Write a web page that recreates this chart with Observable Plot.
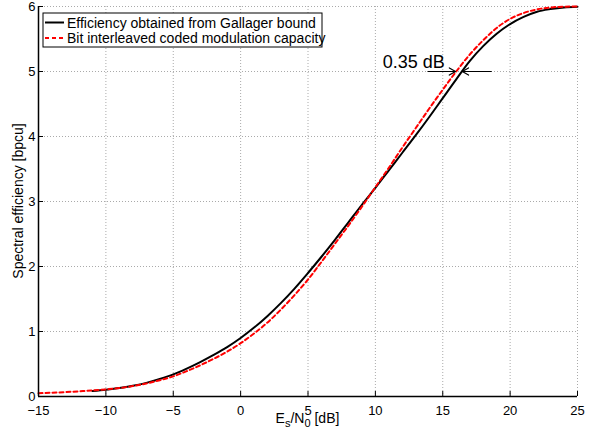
<!DOCTYPE html>
<html>
<head>
<meta charset="utf-8">
<script src="https://cdn.jsdelivr.net/npm/d3@7"></script>
<script src="https://cdn.jsdelivr.net/npm/@observablehq/plot@0.6"></script>
<style>
  html, body { margin: 0; padding: 0; background: #fff; }
  #chart { width: 602px; height: 430px; }
</style>
</head>
<body>
<div id="chart"></div>
<script>
// ---- data ----
const snrBicm = d3.range(-15, 26); // Es/N0 [dB]
const bicmCapacity = [0.05,0.058,0.068,0.08,0.093,0.11,0.13,0.16,0.2,0.25,
  0.31,0.39,0.48,0.58,0.69,0.82,0.97,1.14,1.34,1.56,
  1.80,2.07,2.35,2.63,2.92,3.22,3.52,3.83,4.13,4.43,
  4.72,5.0,5.26,5.48,5.67,5.81,5.9,5.955,5.985,5.997,6.0];
const snrGallager = d3.range(-11, 26);
const gallagerEff = [0.085,0.105,0.13,0.165,0.21,0.27,0.34,0.43,0.53,0.64,
  0.76,0.90,1.06,1.24,1.44,1.66,1.90,2.15,2.41,2.68,
  2.95,3.21,3.48,3.75,4.02,4.30,4.59,4.88,5.16,5.39,
  5.58,5.73,5.84,5.92,5.96,5.985,5.995];
const xTicks = [-15,-10,-5,0,5,10,15,20,25];
const yTicks = [0,1,2,3,4,5,6];
const seriesNames = ["Efficiency obtained from Gallager bound", "Bit interleaved coded modulation capacity"];
// annotation (0.35 dB gap at 5 bpcu)
const arrowFromX = [13.9, 18.6];
const arrowToX = [15.95, 16.45];
const arrowY = [5, 5];
const annotText = "0.35 dB";
const annotX = 12.85, annotY = 5.14;

const bicm = snrBicm.map((x, i) => ({x, y: bicmCapacity[i]}));
const gal = snrGallager.map((x, i) => ({x, y: gallagerEff[i]}));
const arrows = arrowFromX.map((x1, i) => ({x1, x2: arrowToX[i], y: arrowY[i]}));

const W = 602, H = 430, mL = 38, mR = 25, mT = 6, mB = 34;
const pw = W - mL - mR, ph = H - mT - mB;
const fmt = d => d < 0 ? "\u2212" + (-d) : String(d);
const FONT = "'Liberation Sans', Arial, sans-serif";

const svg = Plot.plot({
  width: W, height: H,
  marginLeft: mL, marginRight: mR, marginTop: mT, marginBottom: mB,
  style: {fontFamily: FONT, fontSize: "13px", color: "#000", background: "#fff", overflow: "visible"},
  x: {domain: [-15, 25]},
  y: {domain: [0, 6]},
  marks: [
    Plot.gridX(xTicks, {stroke: "#aaa", strokeOpacity: 1, strokeDasharray: "1,2"}),
    Plot.gridY(yTicks, {stroke: "#aaa", strokeOpacity: 1, strokeDasharray: "1,2"}),
    Plot.tickX(xTicks, {x: d => d, stroke: "#000", insetTop: ph - 5, strokeWidth: 1}),
    Plot.tickY(yTicks, {y: d => d, stroke: "#000", insetRight: pw - 5, strokeWidth: 1}),
    Plot.axisX(xTicks, {tickSize: 0, tickPadding: 9, tickFormat: fmt, label: null, fontSize: 13}),
    Plot.axisY(yTicks, {tickSize: 0, tickPadding: 3, tickFormat: d => String(d), label: null, fontSize: 13}),
    Plot.line(gal, {x: "x", y: "y", stroke: "#000", strokeWidth: 2, curve: "monotone-x"}),
    Plot.line(bicm, {x: "x", y: "y", stroke: "#ff0000", strokeWidth: 2, strokeDasharray: "4,3", curve: "monotone-x"}),
    Plot.ruleY([0], {stroke: "#000", strokeWidth: 1.5}),
    Plot.ruleX([-15], {stroke: "#000", strokeWidth: 1.5}),
    Plot.arrow(arrows, {x1: "x1", x2: "x2", y1: "y", y2: "y", stroke: "#000", strokeWidth: 1.2, headLength: 9}),
    Plot.text([annotText], {x: annotX, y: annotY, text: d => d, fontSize: 18, fill: "#000"})
  ]
});

const s = d3.select(svg);
// legend
const lg = s.append("g").attr("font-family", FONT).attr("font-size", 14).attr("text-anchor", "start");
lg.append("rect").attr("x", 43).attr("y", 13).attr("width", 279).attr("height", 34)
  .attr("fill", "#fff").attr("stroke", "#000").attr("stroke-width", 1);
const rowsY = [22.5, 38];
const styles = [{stroke: "#000", dash: null}, {stroke: "#ff0000", dash: "4,3"}];
seriesNames.forEach((name, i) => {
  lg.append("line").attr("x1", 45).attr("x2", 64).attr("y1", rowsY[i]).attr("y2", rowsY[i])
    .attr("stroke", styles[i].stroke).attr("stroke-width", 2).attr("stroke-dasharray", styles[i].dash);
  lg.append("text").attr("x", 67).attr("y", rowsY[i]).attr("dy", "0.36em")
    .attr("text-anchor", "start").text(name);
});
// x label with subscripts
const xl = s.append("text").attr("x", mL + pw / 2).attr("y", 423)
  .attr("text-anchor", "middle").attr("font-size", 14).attr("font-family", FONT);
xl.append("tspan").text("E");
xl.append("tspan").attr("font-size", 11).attr("dy", 4).text("s");
xl.append("tspan").attr("dy", -4).text("/N");
xl.append("tspan").attr("font-size", 11).attr("dy", 4).text("0");
xl.append("tspan").attr("dy", -4).text(" [dB]");
// y label
s.append("text").attr("transform", `translate(23,${mT + ph / 2}) rotate(-90)`)
  .attr("text-anchor", "middle").attr("font-size", 14).attr("font-family", FONT)
  .text("Spectral efficiency [bpcu]");

document.getElementById("chart").appendChild(svg);
</script>
</body>
</html>
